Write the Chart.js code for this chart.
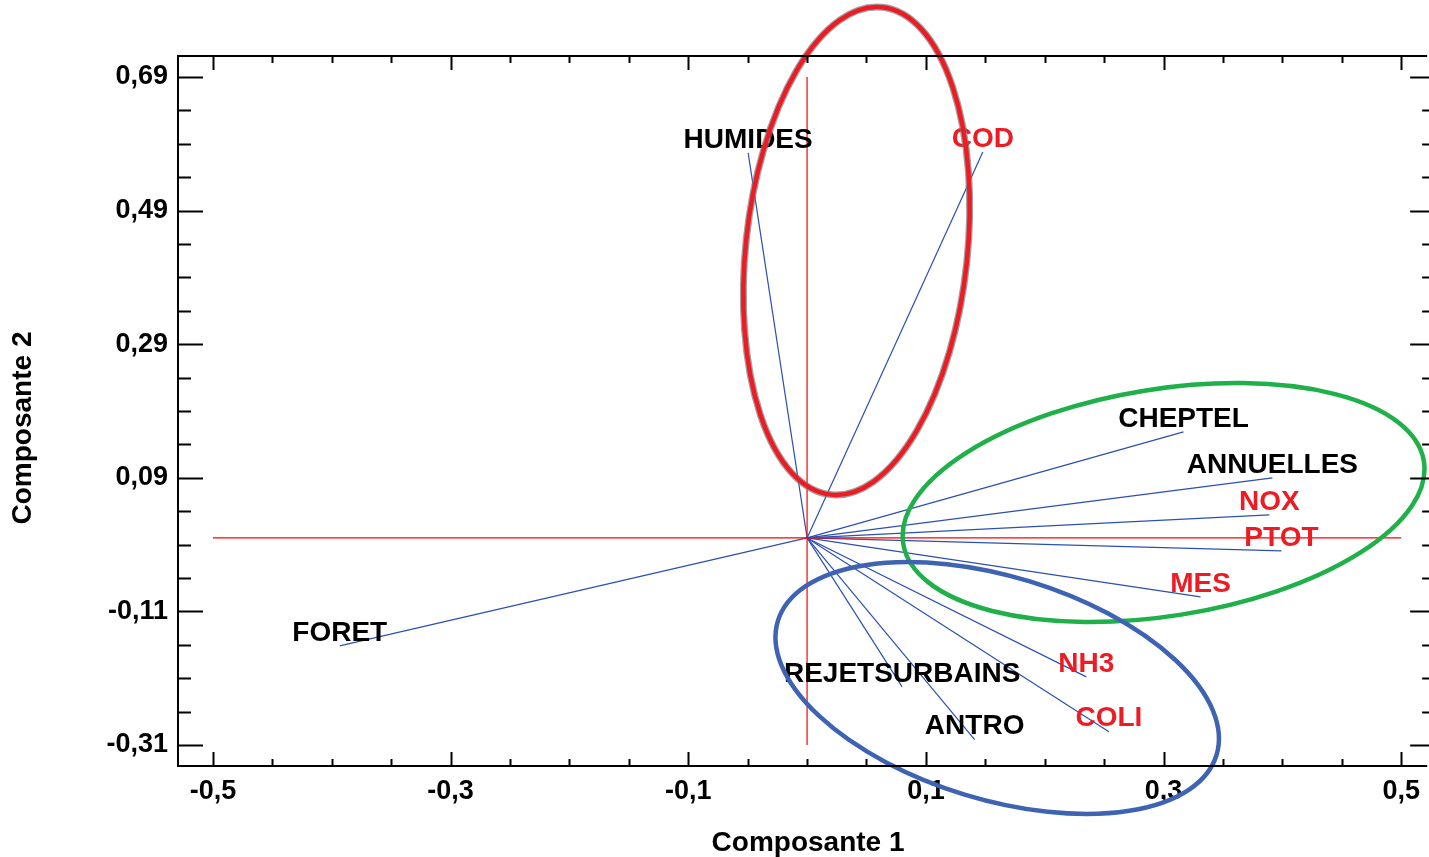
<!DOCTYPE html>
<html>
<head>
<meta charset="utf-8">
<script src="https://cdn.jsdelivr.net/npm/chart.js@4.4.0/dist/chart.umd.min.js"></script>
<style>
  html, body { margin: 0; padding: 0; background: #fff; }
  #wrap { width: 1429px; height: 857px; position: relative; }
</style>
</head>
<body>
<div id="wrap"><canvas id="acp"></canvas></div>
<script>
// coordonnees des variables sur les deux premieres composantes
const variables = ['HUMIDES', 'COD', 'CHEPTEL', 'ANNUELLES', 'NOX', 'PTOT', 'MES', 'NH3', 'COLI', 'REJETSURBAINS', 'ANTRO', 'FORET'];
const composante1 = [-0.0496, 0.1479, 0.3168, 0.3916, 0.3891, 0.3992, 0.3311, 0.2350, 0.2540, 0.0800, 0.1410, -0.3933];
const composante2 = [0.5763, 0.5778, 0.1587, 0.0898, 0.0344, -0.0195, -0.0883, -0.2080, -0.2900, -0.2230, -0.3020, -0.1617];
const typeVariable = ['milieu', 'qualite', 'milieu', 'milieu', 'qualite', 'qualite', 'qualite', 'qualite', 'qualite', 'milieu', 'milieu', 'milieu'];

const ticksX = [-0.5, -0.3, -0.1, 0.1, 0.3, 0.5];
const ticksY = [-0.31, -0.11, 0.09, 0.29, 0.49, 0.69];

const POLICE = '"Liberation Sans", Arial, Helvetica, sans-serif';
const couleurTexte = { milieu: '#000000', qualite: '#ed1c24' };

// regroupements entoures (centre et demi-axes en unites des composantes)
const groupes = [
    { cx: 0.0416, cy: 0.4296, rx: 0.0933, ry: 0.3668, angle: 6, couleur: '#ed1c24', halo: true },
    { cx: 0.3000, cy: 0.0530, rx: 0.2218, ry: 0.1699, angle: -9, couleur: '#1fb04a', halo: false },
    { cx: 0.1600, cy: -0.2246, rx: 0.1930, ry: 0.1669, angle: 17, couleur: '#3f63b3', halo: false }
];

const virgule = (v, d) => v.toFixed(d).replace('.', ',');

const vecteurs = variables.map((nom, i) => ({
    label: nom,
    data: [{ x: 0, y: 0 }, { x: composante1[i], y: composante2[i] }],
    showLine: true,
    borderColor: '#2b50b0',
    borderWidth: 1.2,
    pointRadius: 0,
    fill: false
}));

const axeH = {
    label: 'axe1',
    data: [{ x: ticksX[0], y: 0 }, { x: ticksX[ticksX.length - 1], y: 0 }],
    showLine: true, borderColor: '#ff0000', borderWidth: 1.2, pointRadius: 0
};
const axeV = {
    label: 'axe2',
    data: [{ x: 0, y: ticksY[0] }, { x: 0, y: ticksY[ticksY.length - 1] }],
    showLine: true, borderColor: '#ff0000', borderWidth: 1.2, pointRadius: 0
};

const etiquettesPlugin = {
    id: 'etiquettes',
    afterDatasetsDraw(chart) {
        const { ctx, scales: { x, y } } = chart;
        ctx.save();
        ctx.font = 'bold 28px ' + POLICE;
        ctx.textAlign = 'center';
        ctx.textBaseline = 'middle';
        variables.forEach((nom, i) => {
            const px = x.getPixelForValue(composante1[i]);
            const py = y.getPixelForValue(composante2[i]);
            ctx.fillStyle = couleurTexte[typeVariable[i]];
            ctx.fillText(nom, px, py - 13);
        });
        ctx.restore();
    }
};

const cadrePlugin = {
    id: 'cadre',
    afterDraw(chart) {
        const { ctx, chartArea: a, scales: { x, y } } = chart;
        ctx.save();

        // ellipses
        groupes.forEach(g => {
            const cx = x.getPixelForValue(g.cx);
            const cy = y.getPixelForValue(g.cy);
            const rx = Math.abs(x.getPixelForValue(g.cx + g.rx) - cx);
            const ry = Math.abs(y.getPixelForValue(g.cy + g.ry) - cy);
            const rot = g.angle * Math.PI / 180;
            if (g.halo) {
                ctx.beginPath();
                ctx.ellipse(cx, cy, rx, ry, rot, 0, Math.PI * 2);
                ctx.strokeStyle = 'rgba(120,120,120,0.7)';
                ctx.lineWidth = 7;
                ctx.stroke();
            }
            ctx.beginPath();
            ctx.ellipse(cx, cy, rx, ry, rot, 0, Math.PI * 2);
            ctx.strokeStyle = g.couleur;
            ctx.lineWidth = 4.5;
            ctx.stroke();
        });

        // cadre
        ctx.strokeStyle = '#000';
        ctx.lineWidth = 2;
        ctx.beginPath();
        ctx.moveTo(a.right, a.top);
        ctx.lineTo(a.left, a.top);
        ctx.lineTo(a.left, a.bottom);
        ctx.lineTo(a.right, a.bottom);
        ctx.stroke();

        const droite = a.right + 8;
        ctx.beginPath();
        for (let k = 0; k <= 20; k++) {
            const v = -0.5 + k * 0.05;
            const px = Math.round(x.getPixelForValue(v)) + 0.5;
            const major = ticksX.some(t => Math.abs(t - v) < 1e-6);
            const l = major ? 14 : 7;
            ctx.moveTo(px, a.top); ctx.lineTo(px, a.top + l);
            ctx.moveTo(px, a.bottom); ctx.lineTo(px, a.bottom - l);
        }
        for (let k = 0; k <= 20; k++) {
            const v = -0.31 + k * 0.05;
            const py = Math.round(y.getPixelForValue(v)) + 0.5;
            if (py < a.top || py > a.bottom) continue;
            const major = ticksY.some(t => Math.abs(t - v) < 1e-6);
            const l = major ? 25 : 13;
            ctx.moveTo(a.left, py); ctx.lineTo(a.left + l, py);
            ctx.moveTo(droite, py); ctx.lineTo(droite - l, py);
        }
        ctx.stroke();

        // titres des axes
        ctx.fillStyle = '#000';
        ctx.font = 'bold 28px ' + POLICE;
        ctx.textAlign = 'center';
        ctx.textBaseline = 'middle';
        ctx.fillText('Composante 1', x.getPixelForValue(0) + 1, 843);
        ctx.translate(23, (a.top + a.bottom) / 2 + 17);
        ctx.rotate(-Math.PI / 2);
        ctx.fillText('Composante 2', 0, 0);
        ctx.restore();
    }
};

new Chart(document.getElementById('acp'), {
    type: 'scatter',
    data: { datasets: [axeH, axeV, ...vecteurs] },
    options: {
        responsive: true,
        maintainAspectRatio: false,
        animation: false,
        layout: { padding: { top: 56, right: 0, bottom: 0, left: 0 } },
        plugins: { legend: { display: false }, tooltip: { enabled: false } },
        scales: {
            x: {
                type: 'linear', min: -0.5294, max: 0.5218,
                grid: { display: false, drawTicks: false },
                border: { display: false },
                afterBuildTicks: s => { s.ticks = ticksX.map(v => ({ value: v })); },
                afterFit: s => { s.height = 91; },
                ticks: {
                    autoSkip: false, maxRotation: 0, padding: 9, color: '#000',
                    font: { family: POLICE, size: 27, weight: 'bold' },
                    callback: v => virgule(v, 1)
                }
            },
            y: {
                type: 'linear', min: -0.3414, max: 0.7214,
                grid: { display: false, drawTicks: false },
                border: { display: false },
                afterBuildTicks: s => { s.ticks = ticksY.map(v => ({ value: v })); },
                afterFit: s => { s.width = 178; },
                ticks: {
                    autoSkip: false, padding: 10, color: '#000',
                    font: { family: POLICE, size: 27, weight: 'bold' },
                    callback: v => virgule(v, 2)
                }
            }
        }
    },
    plugins: [etiquettesPlugin, cadrePlugin]
});
</script>
</body>
</html>
